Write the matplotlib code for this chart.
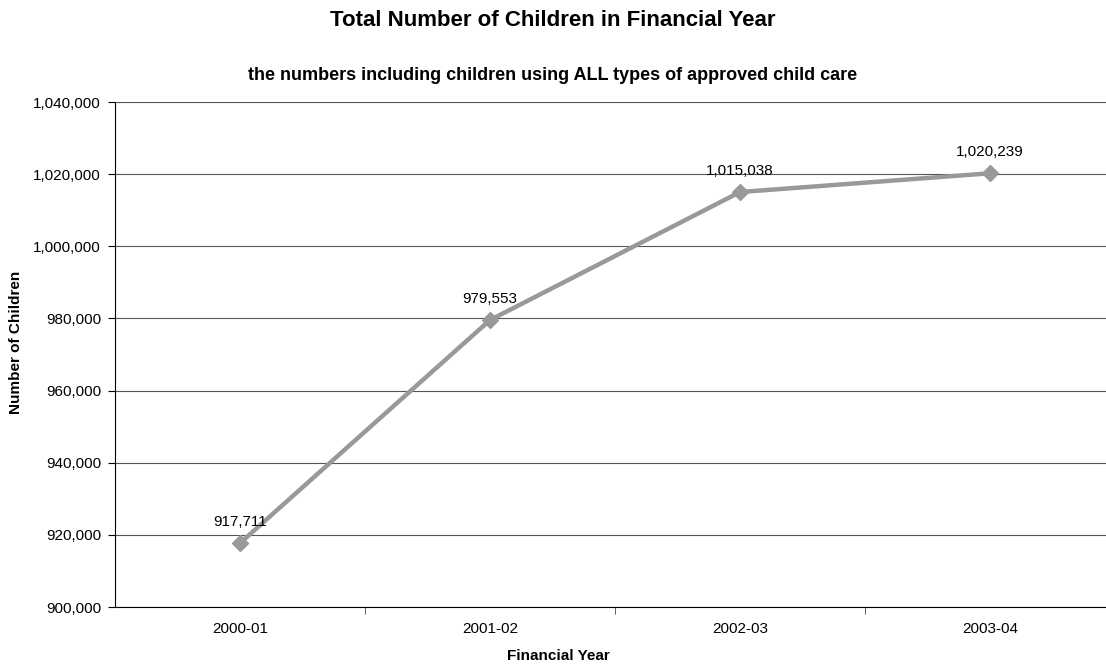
import matplotlib.pyplot as plt
from matplotlib.ticker import FuncFormatter, FixedLocator

plt.rcParams['font.family'] = ['Liberation Sans', 'DejaVu Sans']

years = ['2000-01', '2001-02', '2002-03', '2003-04']
children = [917711, 979553, 1015038, 1020239]

W, H = 1106, 664
fig = plt.figure(figsize=(W/100, H/100), dpi=100)
ax = fig.add_axes([115/W, 1-607/H, 1000/W, 505/H])

x = list(range(len(years)))
ax.plot(x, children, color='#999999', lw=3.2, marker='D', ms=8, zorder=3)

# value labels above each point
for xi, v in zip(x, children):
    ax.annotate(f'{v:,}', (xi, v), xytext=(0, 10), textcoords='offset points',
                ha='center', va='bottom', fontsize=11)

ax.set_xlim(-0.5, 3.5)
ax.set_ylim(900000, 1040000)
ax.set_yticks(range(900000, 1040001, 20000))
ax.yaxis.set_major_formatter(FuncFormatter(lambda v, p: f'{int(v):,}'))
ax.grid(axis='y', color='#555555', lw=0.8)

ax.set_xticks(x)
ax.set_xticklabels(years, fontsize=11)
ax.xaxis.set_minor_locator(FixedLocator([0.5, 1.5, 2.5]))
ax.tick_params(axis='x', which='major', length=0, pad=11)
ax.tick_params(axis='x', which='minor', length=5, color='#444444')
ax.tick_params(axis='y', labelsize=11, length=5, pad=5)

for s in ['top', 'right']:
    ax.spines[s].set_visible(False)

fig.text(558/W, 1-656/H, 'Financial Year', ha='center', va='center',
         fontsize=11, fontweight='bold')
fig.text(16/W, 1-342/H, 'Number of Children', ha='center', va='center',
         rotation=90, fontsize=11, fontweight='bold')

fig.text(553/W, 1-21/H, 'Total Number of Children in Financial Year',
         ha='center', va='center', fontsize=16, fontweight='bold')
fig.text(553/W, 1-75/H, 'the numbers including children using ALL types of approved child care',
         ha='center', va='center', fontsize=13, fontweight='bold')

fig.savefig('out.png', dpi=100)
